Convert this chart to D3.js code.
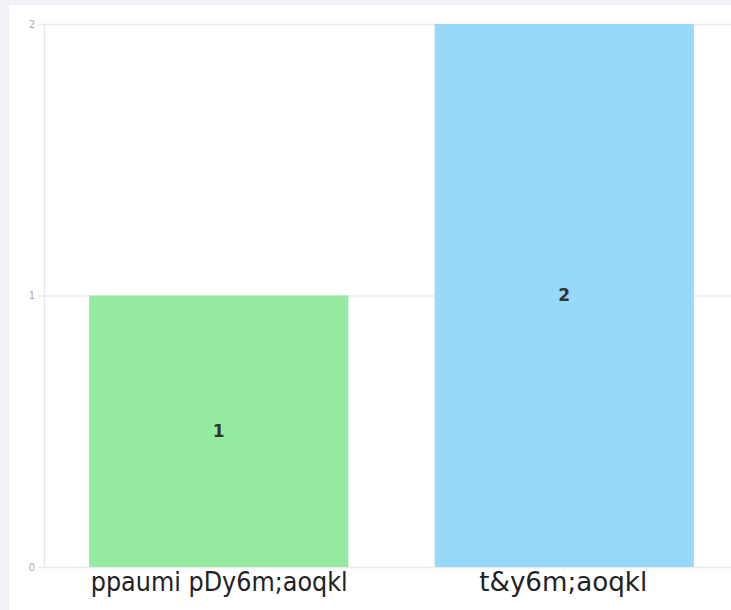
<!DOCTYPE html>
<html>
<head>
<meta charset="utf-8">
<script src="https://cdn.jsdelivr.net/npm/d3@7"></script>
<style>
  html, body { margin: 0; padding: 0; background: #f0f2f5; }
  svg { display: block; }
</style>
</head>
<body>
<svg id="chart" width="731" height="610"></svg>
<script>
const categories = ["ppaumi pDy6m;aoqkl", "t&y6m;aoqkl"];
const values = [1, 2];
const colors = ["#95eba2", "#98d8f8"];
const yTicks = [0, 1, 2];

const svg = d3.select("#chart");
const W = 731, H = 610;

svg.append("rect").attr("x", 9).attr("y", 5).attr("width", W - 9).attr("height", H - 5).attr("fill", "#ffffff");

const x = d3.scaleBand().domain(categories).range([46, 737]).paddingInner(0.25).paddingOuter(0.125);
const y = d3.scaleLinear().domain([0, 2]).range([567, 24]);

// gridlines + y ticks
const yAxis = d3.axisLeft(y).tickValues(yTicks).tickFormat(d3.format("d")).tickSize(-(W - 38)).tickPadding(8);
const gy = svg.append("g").attr("transform", "translate(38,0)").call(yAxis);
gy.select(".domain").remove();
gy.selectAll(".tick line").attr("stroke", "#ebebeb").attr("stroke-width", 1.5);
gy.selectAll(".tick text").attr("fill", "#aaaaaa").attr("font-size", 10).attr("font-family", "DejaVu Sans, sans-serif").attr("x", -3);

// vertical axis line
svg.append("line").attr("x1", 44.5).attr("x2", 44.5).attr("y1", y(2)).attr("y2", y(0))
  .attr("stroke", "#e8e8e8").attr("stroke-width", 1.5);

// x axis ticks
const xAxis = d3.axisBottom(x).tickSize(6).tickFormat("");
const gx = svg.append("g").attr("transform", `translate(0,${y(0)})`).call(xAxis);
gx.select(".domain").remove();
gx.selectAll(".tick line").attr("stroke", "#ebebeb");

// bars
svg.selectAll("rect.bar").data(values).enter().append("rect")
  .attr("class", "bar")
  .attr("x", (d, i) => x(categories[i]))
  .attr("width", x.bandwidth())
  .attr("y", d => y(d))
  .attr("height", d => y(0) - y(d))
  .attr("fill", (d, i) => colors[i]);

// value labels
svg.selectAll("text.val").data(values).enter().append("text")
  .attr("class", "val")
  .attr("x", (d, i) => x(categories[i]) + x.bandwidth() / 2)
  .attr("y", d => (y(d) + y(0)) / 2)
  .attr("dy", "0.35em")
  .attr("text-anchor", "middle")
  .attr("font-family", "DejaVu Sans, sans-serif")
  .attr("font-weight", "bold")
  .attr("font-size", 17)
  .attr("fill", "#333333")
  .text(d => d);

// category labels
const labelWidths = [257, 168];
svg.selectAll("text.cat").data(categories).enter().append("text")
  .attr("class", "cat")
  .attr("x", d => x(d) + x.bandwidth() / 2 - (d === categories[0] ? 128 : 85))
  .attr("y", 591)
  .attr("font-family", "Liberation Sans Narrow, DejaVu Sans Condensed, Liberation Sans, sans-serif")
  .attr("font-size", 27)
  .attr("fill", "#222222")
  .attr("textLength", (d, i) => labelWidths[i])
  .attr("lengthAdjust", "spacingAndGlyphs")
  .text(d => d);
</script>
</body>
</html>
